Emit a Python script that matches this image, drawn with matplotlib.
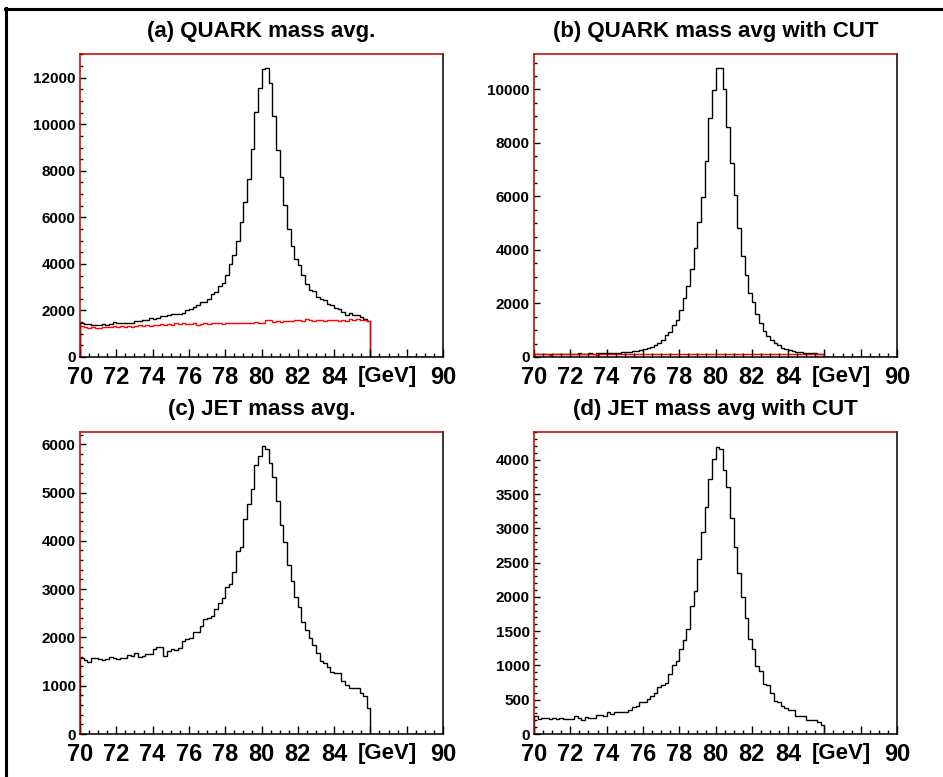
import matplotlib
matplotlib.use("Agg")
import matplotlib.pyplot as plt
import numpy as np
from matplotlib.lines import Line2D
from matplotlib.ticker import FixedLocator, MultipleLocator, FixedFormatter

plt.rcParams["font.family"] = ["Liberation Sans", "DejaVu Sans"]
plt.rcParams["font.weight"] = "bold"

# histogram binning: 0.2 GeV bins from 70 to 90
BIN_EDGES = np.round(np.arange(70.0, 90.0001, 0.2), 1)

# bins 70..86 GeV (80 values); 86..90 GeV is empty
quark_avg = [
    1460, 1430, 1400, 1390, 1360, 1390, 1400, 1360, 1400, 1510,
    1480, 1460, 1460, 1480, 1460, 1550, 1550, 1580, 1610, 1680,
    1650, 1690, 1780, 1750, 1790, 1840, 1840, 1840, 1890, 2010,
    2080, 2150, 2220, 2370, 2370, 2510, 2720, 2800, 3040, 3180,
    3510, 3990, 4370, 4990, 5780, 6670, 7630, 8930, 10540, 11580,
    12370, 12400, 11760, 10350, 8890, 7740, 6520, 5510, 4760, 4230,
    3970, 3540, 3150, 2900, 2840, 2580, 2510, 2440, 2290, 2220,
    2120, 2050, 1940, 1790, 1890, 1820, 1790, 1720, 1650, 1550,
]
quark_avg_bkg = [
    1320, 1300, 1260, 1280, 1250, 1240, 1290, 1300, 1280, 1320,
    1300, 1330, 1290, 1340, 1310, 1330, 1360, 1340, 1390, 1340,
    1380, 1360, 1400, 1380, 1420, 1390, 1440, 1410, 1450, 1430,
    1420, 1450, 1380, 1430, 1460, 1410, 1470, 1440, 1450, 1430,
    1440, 1460, 1450, 1470, 1440, 1460, 1480, 1450, 1500, 1480,
    1470, 1600, 1580, 1500, 1530, 1520, 1550, 1560, 1540, 1600,
    1580, 1560, 1620, 1570, 1550, 1600, 1610, 1560, 1580, 1570,
    1600, 1560, 1610, 1550, 1650, 1600, 1620, 1580, 1600, 1550,
]
quark_cut = [
    110, 120, 115, 125, 120, 110, 125, 130, 120, 125,
    130, 120, 135, 130, 125, 140, 130, 135, 145, 140,
    150, 155, 160, 165, 175, 185, 195, 210, 230, 255,
    285, 320, 375, 435, 525, 620, 810, 935, 1185, 1400,
    1770, 2220, 2640, 3300, 4090, 5025, 5985, 7340, 8915, 9975,
    10780, 10790, 10000, 8600, 7260, 6070, 4825, 3780, 3055, 2395,
    2060, 1620, 1270, 975, 775, 625, 525, 435, 350, 285,
    250, 220, 200, 180, 165, 150, 140, 135, 125, 120,
]
quark_cut_bkg = [
    100, 95, 105, 100, 90, 100, 105, 95, 100, 110,
    100, 95, 105, 100, 95, 110, 100, 90, 105, 100,
    95, 105, 110, 100, 95, 100, 110, 105, 95, 100,
    105, 100, 95, 110, 100, 105, 95, 100, 110, 100,
    105, 95, 100, 110, 105, 100, 95, 105, 110, 100,
    120, 115, 100, 105, 110, 100, 95, 105, 110, 100,
    105, 100, 110, 105, 95, 100, 110, 105, 100, 95,
    105, 110, 100, 105, 95, 110, 100, 105, 100, 95,
]
jet_avg = [
    1581, 1533, 1499, 1568, 1581, 1547, 1533, 1561, 1602, 1568,
    1547, 1581, 1568, 1637, 1616, 1671, 1602, 1623, 1650, 1650,
    1754, 1809, 1796, 1623, 1713, 1754, 1740, 1775, 1927, 1961,
    1982, 2120, 2106, 2238, 2376, 2396, 2445, 2590, 2707, 2811,
    3039, 3101, 3363, 3791, 3881, 4448, 4758, 5076, 5573, 5760,
    5953, 5898, 5608, 5311, 4814, 4330, 3985, 3501, 3177, 2831,
    2638, 2327, 2155, 1982, 1844, 1671, 1519, 1478, 1381, 1291,
    1257, 1257, 1105, 1015, 960, 946, 960, 843, 787, 532,
]
jet_cut = [
    257, 223, 233, 233, 223, 233, 223, 228, 218, 223,
    218, 257, 233, 209, 243, 233, 233, 272, 282, 257,
    316, 296, 316, 316, 320, 320, 354, 393, 403, 461,
    466, 515, 549, 597, 680, 718, 738, 879, 1000, 1058,
    1243, 1374, 1539, 1874, 2092, 2553, 2951, 3316, 3714, 4019,
    4190, 4155, 3850, 3607, 3146, 2723, 2345, 1995, 1689, 1388,
    1238, 985, 913, 733, 718, 597, 476, 466, 403, 379,
    354, 345, 267, 257, 257, 199, 199, 209, 170, 136,
]
EMPTY_TAIL = [0] * 20  # 86..90 GeV

X_TICKS = [70, 72, 74, 76, 78, 80, 82, 84, 86, 88, 90]
X_LABELS = ["70", "72", "74", "76", "78", "80", "82", "84", "", "", "90"]
UNIT_POS = 86.95

W, H = 943, 777
SPINE_RED = "#b80000"
XLAB_SIZE = 17
XLAB_PAD = 6.5


def make_panel(fig, rect, title, title_y, series, ymax, ymajor, yminor):
    ax = fig.add_axes(rect)
    for values, color in series:
        ax.stairs(list(values) + EMPTY_TAIL, BIN_EDGES, color=color, lw=1.0, baseline=0)
    ax.set_xlim(70, 90)
    ax.set_ylim(0, ymax)

    ax.xaxis.set_major_locator(FixedLocator(X_TICKS))
    ax.xaxis.set_major_formatter(FixedFormatter(X_LABELS))
    ax.xaxis.set_minor_locator(MultipleLocator(0.5))
    ax.yaxis.set_major_locator(MultipleLocator(ymajor))
    ax.yaxis.set_minor_locator(MultipleLocator(yminor))

    ax.tick_params(axis="x", which="major", direction="in", length=5.5, width=1.0,
                   labelsize=XLAB_SIZE, pad=XLAB_PAD)
    ax.tick_params(axis="x", which="minor", direction="in", length=2.8, width=1.0)
    ax.tick_params(axis="y", which="major", direction="in", length=4.0, width=1.0,
                   labelsize=11, pad=3)
    ax.tick_params(axis="y", which="minor", direction="in", length=2.2, width=1.0)
    for lab in ax.get_xticklabels() + ax.get_yticklabels():
        lab.set_fontweight("bold")

    ax.annotate("[GeV]", xy=(UNIT_POS, 0), xycoords=("data", "axes fraction"),
                xytext=(0, -XLAB_PAD), textcoords="offset points",
                ha="center", va="top", fontsize=16, fontweight="bold")

    for side in ("left", "top"):
        ax.spines[side].set_color(SPINE_RED)
    for side in ("right", "bottom"):
        ax.spines[side].set_color("black")
    for sp in ax.spines.values():
        sp.set_linewidth(1.1)

    cx = rect[0] + rect[2] / 2
    fig.text(cx, title_y, title, ha="center", va="center", fontsize=16, fontweight="bold")
    return ax


fig = plt.figure(figsize=(W / 100, H / 100), dpi=100)

left_a, left_b = 80 / W, 534 / W
width = 363 / W
bottom_top, bottom_low = 1 - 357 / H, 1 - 734 / H
height = 303 / H

make_panel(fig, [left_a, bottom_top, width, height], "(a) QUARK mass avg.", 1 - 31 / H,
           [(quark_avg, "black"), (quark_avg_bkg, "red")], 13020, 2000, 500)
make_panel(fig, [left_b, bottom_top, width, height], "(b) QUARK mass avg with CUT", 1 - 31 / H,
           [(quark_cut, "black"), (quark_cut_bkg, "red")], 11320, 2000, 500)
make_panel(fig, [left_a, bottom_low, width, 302 / H], "(c) JET mass avg.", 1 - 410 / H,
           [(jet_avg, "black")], 6253, 1000, 200)
make_panel(fig, [left_b, bottom_low, width, 302 / H], "(d) JET mass avg with CUT", 1 - 410 / H,
           [(jet_cut, "black")], 4406, 500, 100)

# outer frame (only left and top edges visible)
fig.add_artist(Line2D([6 / W, 6 / W], [0, 1 - 8 / H], transform=fig.transFigure,
                      color="black", lw=2.2))
fig.add_artist(Line2D([5 / W, 1], [1 - 9 / H, 1 - 9 / H], transform=fig.transFigure,
                      color="black", lw=2.2))

fig.savefig("out.png", dpi=100, facecolor="white")
